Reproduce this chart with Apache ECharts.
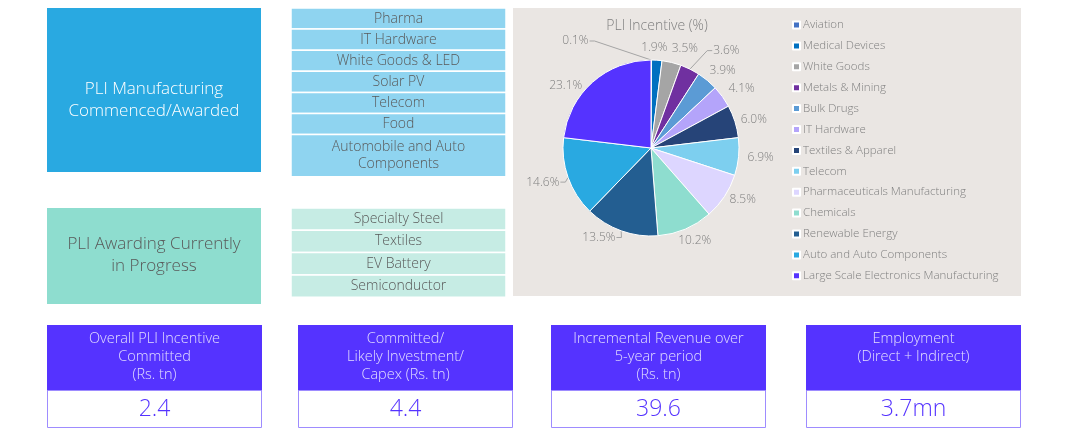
<!DOCTYPE html>
<html><head><meta charset="utf-8">
<script src="https://cdn.jsdelivr.net/npm/echarts@6/dist/echarts.min.js"></script>
<style>html,body{margin:0;padding:0;background:#fff}#c{width:1077px;height:437px}</style>
</head><body><div id="c"></div>
<script>
// ---- data ----
const sectors = ['Aviation','Medical Devices','White Goods','Metals & Mining','Bulk Drugs','IT Hardware','Textiles & Apparel','Telecom','Pharmaceuticals Manufacturing','Chemicals','Renewable Energy','Auto and Auto Components','Large Scale Electronics Manufacturing'];
const shares = [0.1,1.9,3.5,3.6,3.9,4.1,6.0,6.9,8.5,10.2,13.5,14.6,23.1];
const withLine = ['Aviation','Metals & Mining','Renewable Energy','Auto and Auto Components'];
const palette = ['#4472C4','#0070C0','#A5A5A5','#7030A0','#5B9BD5','#B4A4FA','#264478','#7DCFEF','#DDD6FF','#8EDDCF','#235E91','#29A9E1','#5533FF'];
const commencedTitle = ['PLI Manufacturing','Commenced/Awarded'];
const commenced = ['Pharma','IT Hardware','White Goods & LED','Solar PV','Telecom','Food','Automobile and Auto\nComponents'];
const progressTitle = ['PLI Awarding Currently','in Progress'];
const inProgress = ['Specialty Steel','Textiles','EV Battery','Semiconductor'];
const kpiLabels = ['Overall PLI Incentive\nCommitted\n(Rs. tn)','Committed/\nLikely Investment/\nCapex (Rs. tn)','Incremental Revenue over\n5-year period\n(Rs. tn)','Employment\n(Direct + Indirect)'];
const kpiValues = ['2.4','4.4','39.6','3.7mn'];

// ---- layout ----
const FONT = '"Open Sans", "Noto Sans", sans-serif';
const g = [];
function font(size){ return '300 ' + size + 'px ' + FONT; }
// left big boxes
g.push({type:'rect', shape:{x:47,y:8,width:214,height:164}, style:{fill:'#29A9E1'}});
g.push({type:'text', style:{x:154,y:100,text:commencedTitle.join('\n'),fill:'#FFFFFF',font:font(17),textAlign:'center',textVerticalAlign:'middle',lineHeight:22}, z:10});
g.push({type:'rect', shape:{x:47,y:208,width:214,height:96}, style:{fill:'#8EDDCF'}});
g.push({type:'text', style:{x:154,y:255,text:progressTitle.join('\n'),fill:'#595959',font:font(17),textAlign:'center',textVerticalAlign:'middle',lineHeight:22}, z:10});

// lists
function list(items, top, unit, fill) {
  let y = top;
  items.forEach(function(it){
    const lines = it.split('\n').length;
    const h = unit*lines;
    g.push({type:'rect', shape:{x:291,y:y,width:215,height:h}, style:{fill:fill, stroke:'#FFFFFF', lineWidth:1.5}});
    g.push({type:'text', style:{x:398.5,y:y+h/2,text:it,fill:'#595959',font:font(14),textAlign:'center',textVerticalAlign:'middle',lineHeight:17}, z:10});
    y += h;
  });
}
list(commenced, 8, 21.1, '#8FD4F0');
list(inProgress, 208, 22.3, '#C6ECE4');

// pie panel
g.push({type:'rect', shape:{x:513,y:8,width:508,height:288}, style:{fill:'#EAE6E3'}, z:-1});

// KPI boxes
const kpiX = [47,298,551,806];
kpiLabels.forEach(function(l,i){
  const x = kpiX[i];
  g.push({type:'rect', shape:{x:x,y:325,width:215,height:66}, style:{fill:'#5533FF'}});
  g.push({type:'text', style:{x:x+107.5,y:330,text:l,fill:'#E2DDFF',font:font(14.5),textAlign:'center',textVerticalAlign:'top',lineHeight:18}, z:10});
  g.push({type:'rect', shape:{x:x+0.5,y:390.5,width:214,height:37}, style:{fill:'#FFFFFF', stroke:'#9E8CFF', lineWidth:1}});
  g.push({type:'text', style:{x:x+107.5,y:409,text:kpiValues[i],fill:'#5533FF',font:font(23),textAlign:'center',textVerticalAlign:'middle'}, z:10});
});

// label nudges (dx, dy) so labels sit like the reference's best-fit placement
const nudges = {0:[-93,-14], 1:[-20,-8], 2:[-5,-9], 3:[17,-14], 4:[-5,-6], 5:[-2,-5], 6:[-3,0], 8:[-3,0], 9:[-13,7], 10:[0,2], 11:[0,3], 12:[-3,7]};

const chart = echarts.init(document.getElementById('c'), null, {renderer:'canvas'});
chart.setOption({
  animation:false,
  color: palette,
  title: {text:'PLI Incentive (%)', left:652, top:14, textAlign:'center', textStyle:{fontFamily:FONT, fontSize:14, fontWeight:300, color:'#7F7F7F'}},
  legend: {orient:'vertical', left:787, top:14, itemWidth:7, itemHeight:7, itemGap:8.9, icon:'rect',
    textStyle:{fontFamily:FONT, fontSize:11.5, fontWeight:300, color:'#808080', lineHeight:11, padding:[0,0,0,-2]}, data:sectors},
  graphic: g,
  series: [{
    type:'pie', center:[651,148], radius:[0,88], startAngle:90, clockwise:true,
    avoidLabelOverlap:false,
    itemStyle:{borderColor:'#FFFFFF', borderWidth:1},
    label:{show:true, position:'outside', formatter:function(p){return p.value.toFixed(1)+'%';}, fontFamily:FONT, fontSize:12, fontWeight:300, color:'#7F7F7F', distanceToLabelLine:2},
    labelLine:{show:true, length:5, length2:2, lineStyle:{color:'#A5A5A5', width:1}},
    labelLayout: function(p){
      const n = nudges[p.dataIndex];
      if (!n) return {};
      const res = {dx:n[0], dy:n[1]};
      if (p.labelLinePoints && withLine.indexOf(sectors[p.dataIndex])>=0) {
        const r = p.labelRect;
        const nx = r.x + n[0], ny = r.y + n[1];
        const midY = ny + r.height/2;
        const p0 = p.labelLinePoints[0];
        if (nx + r.width < p0[0]) {
          const right = nx + r.width;
          res.labelLinePoints = [[p0[0],p0[1]],[right+6,midY],[right+1,midY]];
        } else {
          res.labelLinePoints = [[p0[0],p0[1]],[nx-6,midY],[nx-1,midY]];
        }
      }
      return res;
    },
    data: sectors.map(function(s,i){
      return {name:s, value:shares[i], labelLine:{show: withLine.indexOf(s)>=0}};
    })
  }]
});
</script></body></html>
